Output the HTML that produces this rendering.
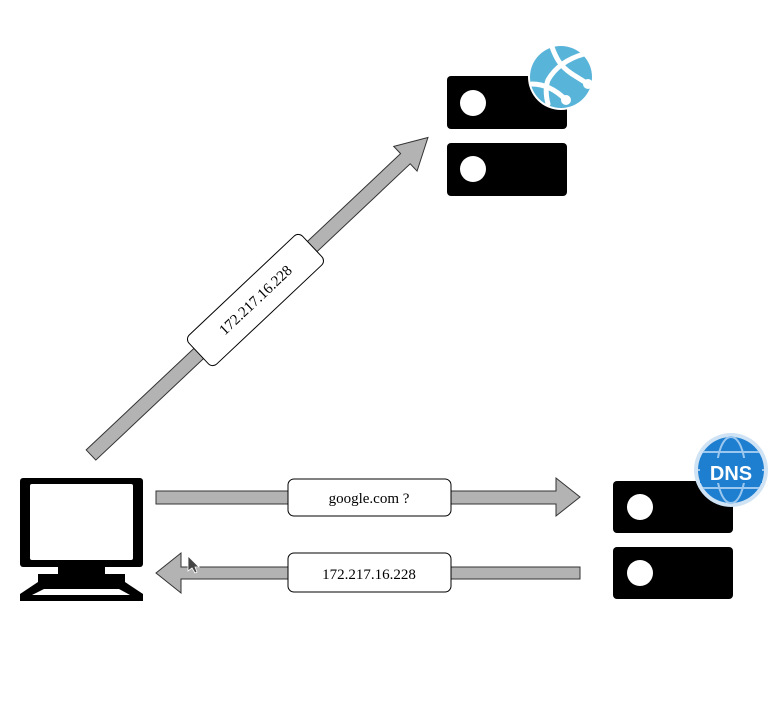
<!DOCTYPE html>
<html><head><style>body{margin:0;background:#fff}svg{display:block}</style></head><body>
<svg width="777" height="727" viewBox="0 0 777 727" xmlns="http://www.w3.org/2000/svg" font-family="Liberation Serif, serif">
<!-- diagonal arrow -->
<g transform="translate(91,455) rotate(-43.3)">
<polygon points="0,-7 432,-7 432,-17 463,0 432,17 432,7 0,7" fill="#b3b3b3" stroke="#333" stroke-width="1"/>
<rect x="148" y="-20" width="156" height="40" rx="6" fill="#fff" stroke="#000"/>
<text x="226" y="5" font-size="15" text-anchor="middle">172.217.16.228</text>
</g>
<!-- horizontal arrows -->
<polygon points="156,491 556,491 556,478 580,497 556,516 556,504 156,504" fill="#b3b3b3" stroke="#333"/>
<rect x="288" y="479" width="163" height="37" rx="6" fill="#fff" stroke="#000"/>
<text x="369" y="503" font-size="15" text-anchor="middle">google.com ?</text>
<polygon points="580,567 181,567 181,553 156,573 181,593 181,579 580,579" fill="#b3b3b3" stroke="#333"/>
<rect x="288" y="553" width="163" height="39" rx="6" fill="#fff" stroke="#000"/>
<text x="369" y="579" font-size="15" text-anchor="middle">172.217.16.228</text>
<polygon points="188,556 188,571 192,568 195,573 197,572 195,567 199,567" fill="#444" stroke="#fff" stroke-width="0.8"/>
<!-- computer -->
<rect x="20" y="478" width="123" height="89" rx="3" fill="#000"/>
<rect x="30" y="484" width="103" height="76" rx="2" fill="#fff"/>
<rect x="58" y="566" width="47" height="8" fill="#000"/>
<rect x="38" y="574" width="87" height="8" fill="#000"/>
<polygon points="38,582 125,582 143,594 143,601 20,601 20,594" fill="#000"/>
<polygon points="44,589 119,589 130,595 32,595" fill="#fff"/>
<!-- top servers -->
<rect x="447" y="76" width="120" height="53" rx="4" fill="#000"/>
<rect x="447" y="143" width="120" height="53" rx="4" fill="#000"/>
<circle cx="473" cy="103" r="13" fill="#fff"/>
<circle cx="473" cy="169" r="13" fill="#fff"/>
<circle cx="561" cy="77" r="33" fill="#fff"/>
<circle cx="561" cy="77" r="31" fill="#59b4d9"/>
<g stroke="#fff" stroke-width="5" fill="none" stroke-linecap="round">
<path d="M552,47 C556,58 560,66 572,74 L588,84"/>
<path d="M584,54 C570,58 556,66 548,80 C545,88 546,96 548,104"/>
<path d="M532,84 C542,84 554,88 566,100"/>
</g>
<circle cx="588" cy="84" r="5" fill="#fff"/><circle cx="566" cy="100" r="5" fill="#fff"/>
<!-- DNS servers -->
<rect x="613" y="481" width="120" height="52" rx="4" fill="#000"/>
<rect x="613" y="547" width="120" height="52" rx="4" fill="#000"/>
<circle cx="640" cy="507" r="13" fill="#fff"/>
<circle cx="640" cy="573" r="13" fill="#fff"/>
<circle cx="731" cy="470" r="37" fill="#cfe3f5"/>
<circle cx="731" cy="470" r="33" fill="#1e7fd0"/>
<g stroke="#9cc8ef" stroke-width="2" fill="none">
<ellipse cx="731" cy="470" rx="14" ry="33"/><line x1="698" y1="470" x2="764" y2="470"/>
<path d="M703,452 H759 M703,488 H759"/></g>
<rect x="700" y="458" width="62" height="25" fill="#1e7fd0"/>
<text x="731" y="480" font-size="20" font-weight="bold" fill="#fff" text-anchor="middle" font-family="Liberation Sans, sans-serif">DNS</text>
</svg>
</body></html>
